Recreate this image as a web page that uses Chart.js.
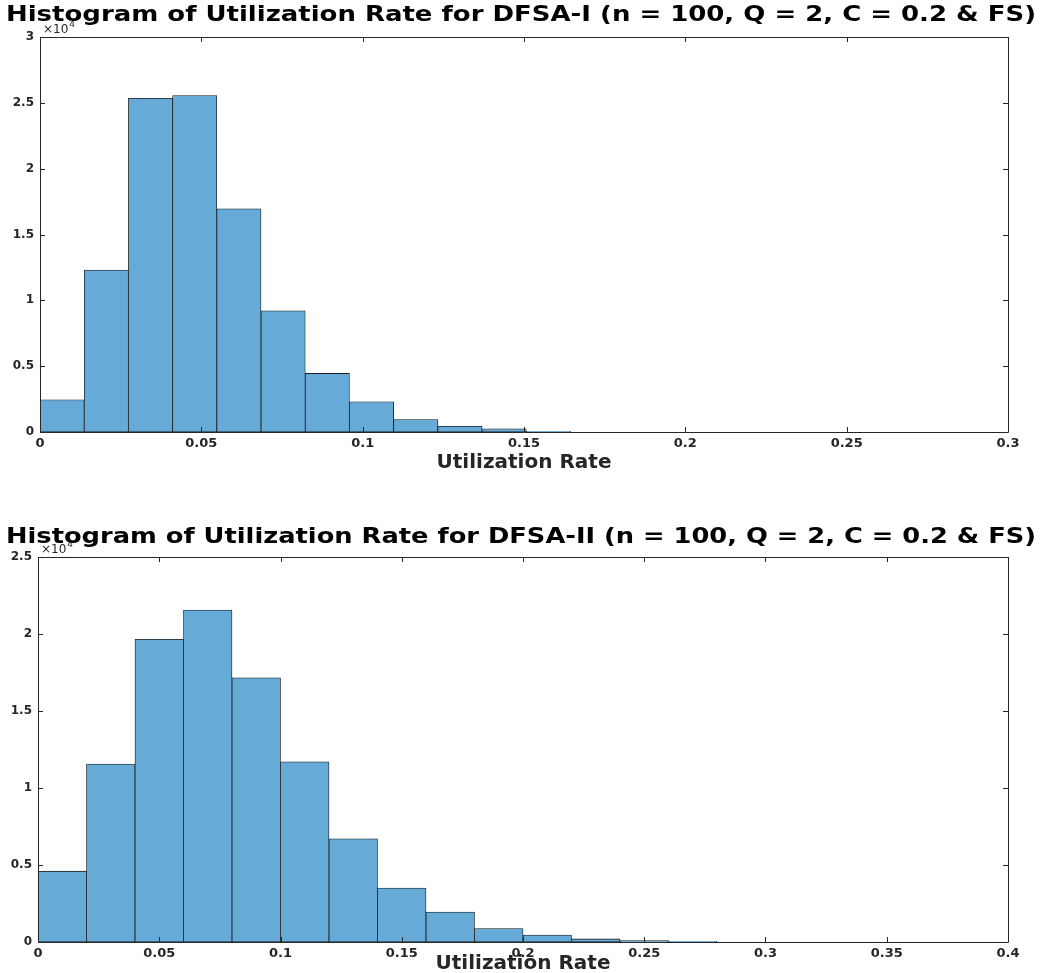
<!DOCTYPE html>
<html>
<head>
<meta charset="utf-8">
<script src="https://cdn.jsdelivr.net/npm/chart.js@4"></script>
<style>
  html, body { margin: 0; padding: 0; background: #fff; overflow: hidden; }
  .box { position: absolute; left: 0; width: 1042px; }
</style>
</head>
<body>
<div class="box" style="top:0;height:490px"><canvas id="topChart"></canvas></div>
<div class="box" style="top:490px;height:483px"><canvas id="bottomChart"></canvas></div>
<script>
// DFSA-I histogram (bin width ~0.0137)
const topBinWidth = 0.0137;
const topCounts = [2450, 12300, 25350, 25550, 16950, 9200, 4450, 2300, 950, 440, 240, 60];
const topXTicks = [0, 0.05, 0.1, 0.15, 0.2, 0.25, 0.3];
const topYTicks = [0, 5000, 10000, 15000, 20000, 25000, 30000];

// DFSA-II histogram (bin width 0.02)
const bottomBinWidth = 0.02;
const bottomCounts = [4600, 11550, 19650, 21550, 17150, 11700, 6700, 3500, 1950, 870, 450, 200, 90, 40];
const bottomXTicks = [0, 0.05, 0.1, 0.15, 0.2, 0.25, 0.3, 0.35, 0.4];
const bottomYTicks = [0, 5000, 10000, 15000, 20000, 25000];

const FONT = "'DejaVu Sans', 'Liberation Sans', Arial, sans-serif";
const AXIS_COLOR = '#262626';

// MATLAB-like box with inward tick marks, the x10^4 multiplier and a wide title
const matlabAxes = {
    id: 'matlabAxes',
    afterDraw(chart, args, opts) {
        const { ctx, chartArea: a, scales: { x, y } } = chart;
        const len = 5;
        ctx.save();
        ctx.strokeStyle = AXIS_COLOR;
        ctx.lineWidth = 1;
        ctx.beginPath();
        ctx.rect(Math.round(a.left) + 0.5, Math.round(a.top) + 0.5,
                 Math.round(a.width), Math.round(a.height));
        x.ticks.forEach((t, i) => {
            const px = Math.round(x.getPixelForTick(i)) + 0.5;
            ctx.moveTo(px, a.bottom); ctx.lineTo(px, a.bottom - len);
            ctx.moveTo(px, a.top); ctx.lineTo(px, a.top + len);
        });
        y.ticks.forEach((t, i) => {
            const py = Math.round(y.getPixelForTick(i)) + 0.5;
            ctx.moveTo(a.left, py); ctx.lineTo(a.left + len, py);
            ctx.moveTo(a.right, py); ctx.lineTo(a.right - len, py);
        });
        ctx.stroke();

        ctx.fillStyle = AXIS_COLOR;
        ctx.textBaseline = 'alphabetic';
        ctx.textAlign = 'left';
        ctx.font = '12px ' + FONT;
        ctx.fillText('\u00d710', a.left + 3, a.top - 4);
        const w = ctx.measureText('\u00d710').width;
        ctx.font = '9px ' + FONT;
        ctx.fillText('4', a.left + 3 + w + 1, a.top - 10);

        // title, stretched horizontally to the reference width
        ctx.fillStyle = '#000';
        ctx.font = 'bold 21px ' + FONT;
        ctx.textBaseline = 'middle';
        ctx.textAlign = 'center';
        const tw = ctx.measureText(opts.text).width;
        const sx = opts.width / tw;
        ctx.translate(opts.cx, opts.cy);
        ctx.scale(sx, 1);
        ctx.fillText(opts.text, 0, 0);
        ctx.restore();
    }
};

function makeHistogram(canvasId, cfg) {
    const points = cfg.counts.map((c, i) => ({ x: (i + 0.5) * cfg.binWidth, y: c }));
    return new Chart(document.getElementById(canvasId), {
        type: 'bar',
        data: {
            datasets: [{
                data: points,
                backgroundColor: 'rgb(102,170,215)',
                borderColor: '#1a1a1a',
                borderWidth: 0.8,
                borderSkipped: false,
                barPercentage: 1,
                categoryPercentage: 1
            }]
        },
        options: {
            responsive: true,
            maintainAspectRatio: false,
            animation: false,
            layout: { padding: { left: 0, right: 34, top: cfg.top, bottom: 0 } },
            plugins: {
                legend: { display: false },
                tooltip: { enabled: false },
                title: { display: false },
                matlabAxes: { text: cfg.title, cx: 521, cy: cfg.titleY, width: 1030 }
            },
            scales: {
                x: {
                    type: 'linear',
                    offset: false,
                    min: cfg.xTicks[0],
                    max: cfg.xTicks[cfg.xTicks.length - 1],
                    grid: { display: false, drawTicks: false, offset: false },
                    border: { display: false },
                    afterBuildTicks: (s) => { s.ticks = cfg.xTicks.map(v => ({ value: v })); },
                    afterFit: (s) => { s.height = cfg.xHeight; },
                    ticks: {
                        padding: 4,
                        color: AXIS_COLOR,
                        maxRotation: 0,
                        autoSkip: false,
                        font: { family: FONT, size: 13, weight: 'bold' },
                        callback: (v) => String(+v.toFixed(2))
                    },
                    title: {
                        display: true,
                        text: 'Utilization Rate',
                        color: AXIS_COLOR,
                        font: { family: FONT, size: 20, weight: 'bold', lineHeight: 1.2 },
                        padding: { top: 0, bottom: cfg.xTitlePad }
                    }
                },
                y: {
                    min: 0,
                    max: cfg.yTicks[cfg.yTicks.length - 1],
                    grid: { display: false, drawTicks: false },
                    border: { display: false },
                    afterBuildTicks: (s) => { s.ticks = cfg.yTicks.map(v => ({ value: v })); },
                    afterFit: (s) => { s.width = cfg.yWidth; },
                    ticks: {
                        padding: 6,
                        color: AXIS_COLOR,
                        font: { family: FONT, size: 12, weight: 'bold' },
                        callback: (v) => String(+(v / 10000).toFixed(2))
                    }
                }
            }
        },
        plugins: [matlabAxes]
    });
}

makeHistogram('topChart', {
    title: 'Histogram of Utilization Rate for DFSA-I (n = 100, Q = 2, C = 0.2 & FS)',
    binWidth: topBinWidth,
    counts: topCounts,
    xTicks: topXTicks,
    yTicks: topYTicks,
    top: 37,
    titleY: 16,
    xHeight: 58,
    xTitlePad: 15,
    yWidth: 40
});

makeHistogram('bottomChart', {
    title: 'Histogram of Utilization Rate for DFSA-II (n = 100, Q = 2, C = 0.2 & FS)',
    binWidth: bottomBinWidth,
    counts: bottomCounts,
    xTicks: bottomXTicks,
    yTicks: bottomYTicks,
    top: 67,
    titleY: 48,
    xHeight: 31,
    xTitlePad: -3,
    yWidth: 38
});
</script>
</body>
</html>
